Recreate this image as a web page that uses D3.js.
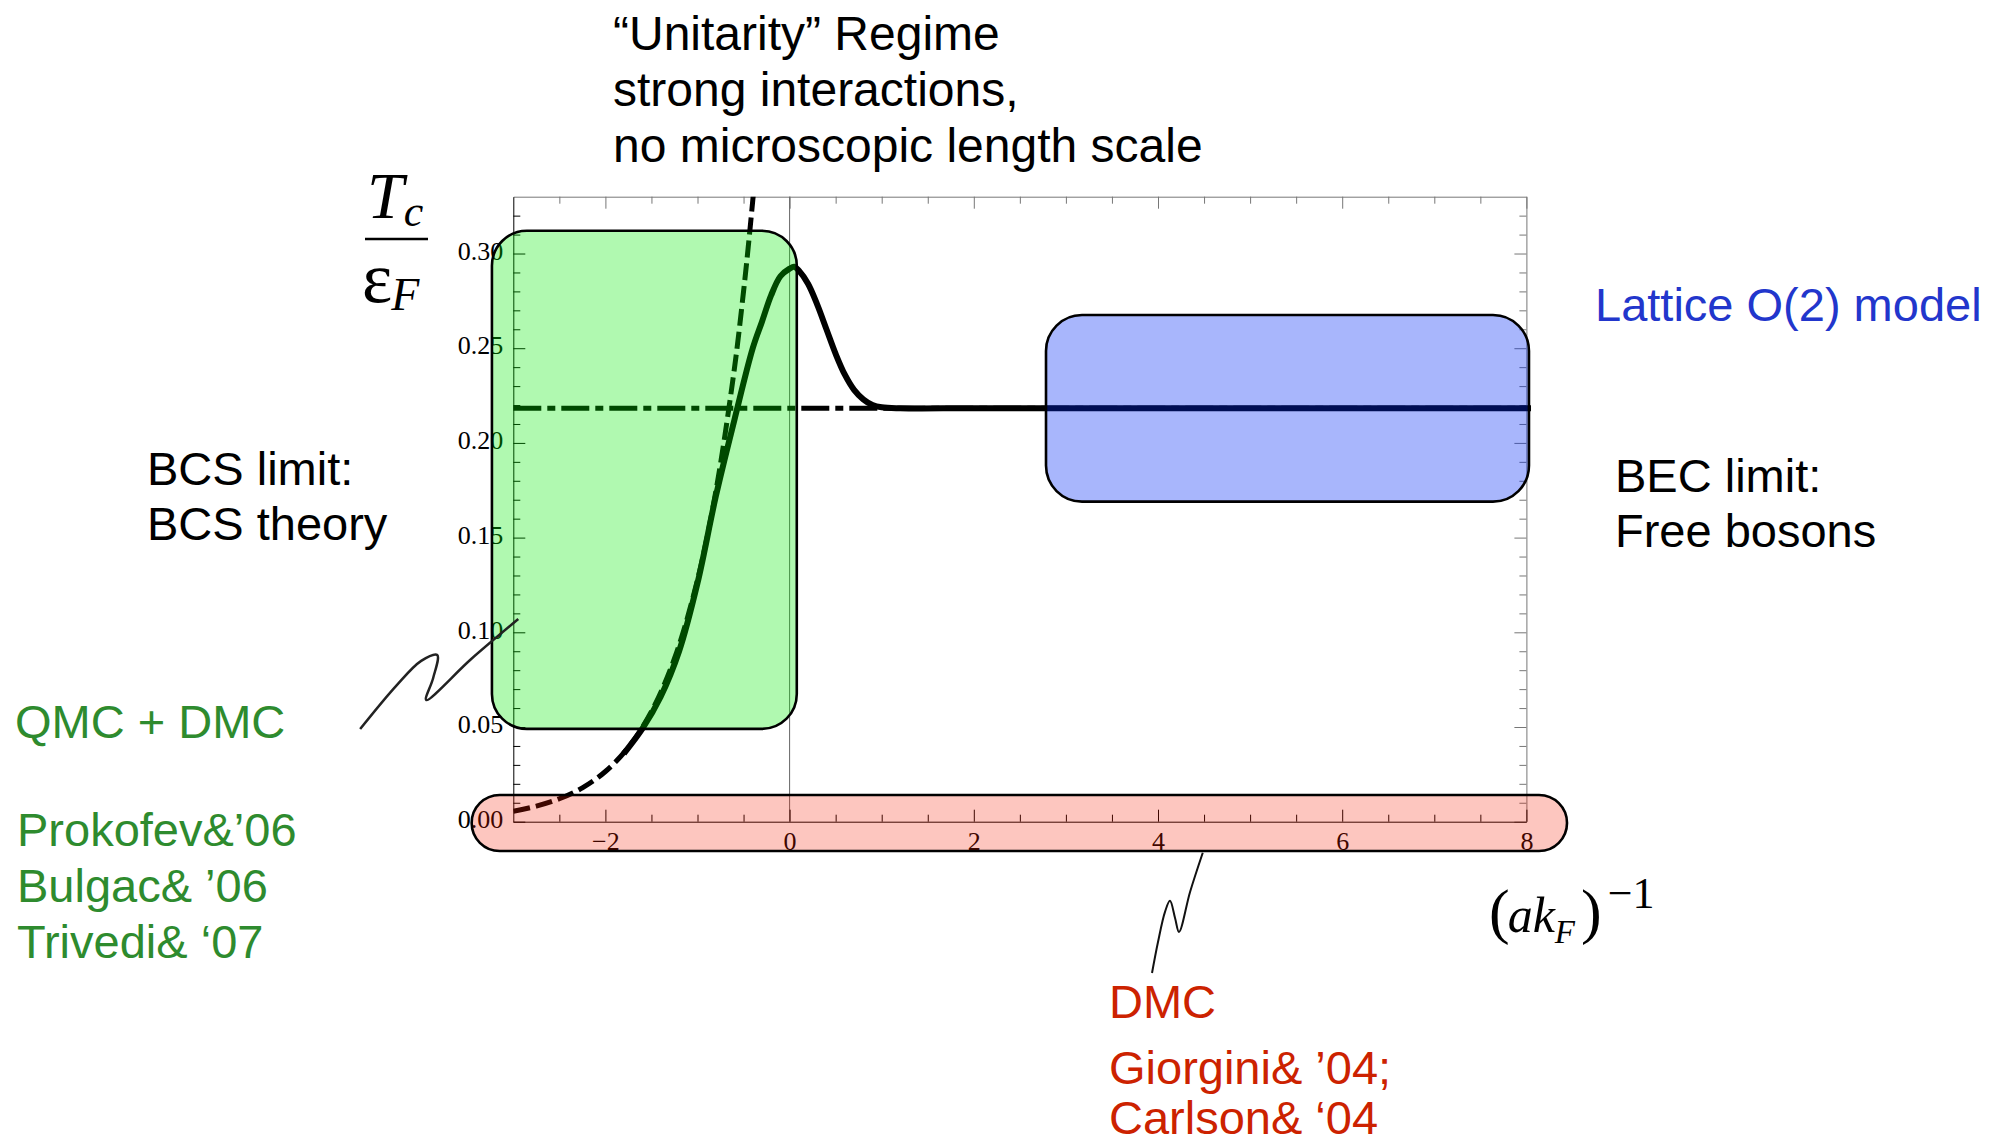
<!DOCTYPE html>
<html>
<head>
<meta charset="utf-8">
<script src="https://cdn.jsdelivr.net/npm/d3@7/dist/d3.min.js"></script>
<style>
body { margin: 0; background: #fff; }
svg { display: block; }
</style>
</head>
<body>
<svg id="chart" width="1990" height="1146"></svg>
<script>
// BCS asymptote (dashed)
var bcsX = [-3, -2.75, -2.5, -2.25, -2, -1.75, -1.5, -1.25, -1, -0.8, -0.6, -0.5, -0.45, -0.4, -0.37];
var bcsY = [0.0055, 0.0082, 0.0121, 0.0179, 0.0265, 0.0393, 0.0582, 0.0862, 0.1277, 0.1747, 0.239, 0.280, 0.303, 0.328, 0.343];

// Tc crossover curve (solid)
var tcX = [-1.8, -1.6, -1.4, -1.2, -1.0, -0.8, -0.6, -0.4, -0.3, -0.2, -0.1, 0.0, 0.05, 0.1, 0.2, 0.3, 0.4, 0.5, 0.6, 0.7, 0.8, 0.9, 1.0, 1.2, 2, 4, 6, 8.05];
var tcY = [0.036, 0.049, 0.066, 0.090, 0.126, 0.172, 0.212, 0.250, 0.264, 0.278, 0.288, 0.292, 0.293, 0.291, 0.284, 0.273, 0.260, 0.247, 0.236, 0.228, 0.223, 0.220, 0.2188, 0.2183, 0.2183, 0.2183, 0.2183, 0.2183];

// BEC limit (dash-dot)
var becX = [-3, 8];
var becY = [0.2183, 0.2183];

var xTicks = [-2, 0, 2, 4, 6, 8];
var xTickLabels = ["\u22122", "0", "2", "4", "6", "8"];
var yTicks = [0, 0.05, 0.10, 0.15, 0.20, 0.25, 0.30];
var yTickLabels = ["0.00", "0.05", "0.10", "0.15", "0.20", "0.25", "0.30"];

// method boxes: QMC+DMC, lattice O(2), DMC
var boxX0 = [-3.232, 2.784, -3.452];
var boxX1 = [0.078, 8.028, 8.441];
var boxY0 = [0.049, 0.169, -0.0155];
var boxY1 = [0.312, 0.2675, 0.0141];
var boxColor = ["rgb(0,235,0)", "rgb(0,40,245)", "rgb(248,28,0)"];
var boxAlpha = [0.31, 0.34, 0.25];
var boxRadius = [35, 36, 28];

// callout squiggles (data units)
var qmcCallX = [-4.663, -4.272, -4.0, -3.826, -3.870, -3.946, -3.457, -2.946];
var qmcCallY = [0.0489, 0.0717, 0.0849, 0.0880, 0.0759, 0.0643, 0.0859, 0.1070];
var dmcCallX = [4.486, 4.348, 4.228, 4.185, 4.130, 4.076, 4.000, 3.935];
var dmcCallY = [-0.0164, -0.0371, -0.0582, -0.0508, -0.0418, -0.0476, -0.0635, -0.0799];

var serif = "'Liberation Serif','Times New Roman',serif";
var sans = "'Liberation Sans',Arial,Helvetica,sans-serif";

var svg = d3.select("#chart");
svg.append("rect").attr("width", 1990).attr("height", 1146).attr("fill", "#fff");

var x = d3.scaleLinear().domain([-3, 8]).range([513.3, 1526.4]);
var y = d3.scaleLinear().domain([0, 0.33]).range([821.7, 196.7]);

var xMinor = d3.range(-2.5, 8, 0.5).filter(function(d){ return xTicks.indexOf(d) < 0; });
var yMinor = d3.range(0.01, 0.33, 0.01).filter(function(d){
    return yTicks.every(function(t){ return Math.abs(t - d) > 0.001; });
});

function styleAxis(g, col) {
    g.attr("color", col).attr("font-family", serif).attr("font-size", 26);
}

// frame: top and right (grey)
var gTop = svg.append("g").attr("transform", "translate(0," + y(0.33) + ")")
    .call(d3.axisTop(x).tickValues(xTicks).tickSize(-12).tickSizeOuter(0).tickFormat(""));
styleAxis(gTop, "#777");
svg.append("g").attr("transform", "translate(0," + y(0.33) + ")")
    .call(d3.axisTop(x).tickValues(xMinor).tickSize(-7).tickFormat(""))
    .attr("color", "#777").select(".domain").remove();

var gRight = svg.append("g").attr("transform", "translate(" + x(8) + ",0)")
    .call(d3.axisRight(y).tickValues(yTicks).tickSize(-12).tickSizeOuter(0).tickFormat(""));
styleAxis(gRight, "#777");
svg.append("g").attr("transform", "translate(" + x(8) + ",0)")
    .call(d3.axisRight(y).tickValues(yMinor).tickSize(-7).tickFormat(""))
    .attr("color", "#777").select(".domain").remove();

// vertical axis at x = 0
svg.append("line")
    .attr("x1", x(0)).attr("x2", x(0))
    .attr("y1", y(0)).attr("y2", y(0.33))
    .attr("stroke", "#666").attr("stroke-width", 1);

// bottom and left axes (black, labelled)
var gBottom = svg.append("g").attr("transform", "translate(0," + y(0) + ")")
    .call(d3.axisBottom(x).tickValues(xTicks).tickSize(-12).tickSizeOuter(0).tickPadding(10)
        .tickFormat(function(d, i){ return xTickLabels[i]; }));
styleAxis(gBottom, "#000");
svg.append("g").attr("transform", "translate(0," + y(0) + ")")
    .call(d3.axisBottom(x).tickValues(xMinor).tickSize(-7).tickFormat(""))
    .attr("color", "#000").select(".domain").remove();

var gLeft = svg.append("g").attr("transform", "translate(" + x(-3) + ",0)")
    .call(d3.axisLeft(y).tickValues(yTicks).tickSize(-12).tickSizeOuter(0).tickPadding(10)
        .tickFormat(function(d, i){ return yTickLabels[i]; }));
styleAxis(gLeft, "#000");
gLeft.selectAll(".tick text").attr("dy", "0.22em");
svg.append("g").attr("transform", "translate(" + x(-3) + ",0)")
    .call(d3.axisLeft(y).tickValues(yMinor).tickSize(-7).tickFormat(""))
    .attr("color", "#000").select(".domain").remove();

// curves
svg.append("clipPath").attr("id", "plotclip")
    .append("rect").attr("x", x(-3)).attr("y", y(0.33))
    .attr("width", x(8) - x(-3) + 6).attr("height", y(0) - y(0.33));

function curve(X, Y) {
    return d3.line()
        .x(function(i){ return x(X[i]); })
        .y(function(i){ return y(Y[i]); })
        .curve(d3.curveCatmullRom.alpha(0.5))(d3.range(X.length));
}

svg.append("path").attr("d", curve(becX, becY))
    .attr("fill", "none").attr("stroke", "#000").attr("stroke-width", 5)
    .attr("stroke-dasharray", "28,6,8,6");

svg.append("path").attr("d", curve(bcsX, bcsY)).attr("clip-path", "url(#plotclip)")
    .attr("fill", "none").attr("stroke", "#000").attr("stroke-width", 5)
    .attr("stroke-dasharray", "17,6");

svg.append("path").attr("d", curve(tcX, tcY))
    .attr("fill", "none").attr("stroke", "#000").attr("stroke-width", 6)
    .attr("stroke-linejoin", "round");

// translucent method boxes on top
svg.selectAll("rect.box")
    .data(d3.range(boxX0.length))
    .enter().append("rect")
    .attr("class", "box")
    .attr("x", function(i){ return x(boxX0[i]); })
    .attr("y", function(i){ return y(boxY1[i]); })
    .attr("width", function(i){ return x(boxX1[i]) - x(boxX0[i]); })
    .attr("height", function(i){ return y(boxY0[i]) - y(boxY1[i]); })
    .attr("rx", function(i){ return boxRadius[i]; })
    .attr("fill", function(i){ return boxColor[i]; })
    .attr("fill-opacity", function(i){ return boxAlpha[i]; })
    .attr("stroke", "#000").attr("stroke-width", 2.6);

// callouts
svg.append("path").attr("d", curve(qmcCallX, qmcCallY))
    .attr("fill", "none").attr("stroke", "#222").attr("stroke-width", 2.5);
svg.append("path").attr("d", curve(dmcCallX, dmcCallY))
    .attr("fill", "none").attr("stroke", "#111").attr("stroke-width", 2);

// text blocks
function lines(xp, ys, strs, size, col) {
    strs.forEach(function(s, i){
        svg.append("text").attr("x", xp).attr("y", ys[i])
            .attr("font-family", sans).attr("font-size", size)
            .attr("fill", col).text(s);
    });
}
lines(613, [50, 106, 162], ["\u201CUnitarity\u201D Regime", "strong interactions,", "no microscopic length scale"], 48, "#000");
lines(147, [485, 540], ["BCS limit:", "BCS theory"], 47, "#000");
lines(15, [738], ["QMC + DMC"], 47, "#2e8b2e");
lines(17, [846, 902, 958], ["Prokofev&\u201906", "Bulgac& \u201906", "Trivedi& \u201807"], 47, "#2e8b2e");
lines(1595, [321], ["Lattice O(2) model"], 47, "#2236cc");
lines(1615, [492, 547], ["BEC limit:", "Free bosons"], 47, "#000");
lines(1109, [1018], ["DMC"], 47, "#cc2200");
lines(1109, [1084, 1134], ["Giorgini& \u201904;", "Carlson& \u201804"], 47, "#cc2200");

// y label Tc / eF
var yl = svg.append("g").attr("font-family", serif).attr("fill", "#000");
var tT = yl.append("text").attr("x", 367).attr("y", 218).attr("font-style", "italic");
tT.append("tspan").attr("font-size", 66).text("T");
tT.append("tspan").attr("font-size", 44).attr("dy", 8).text("c");
yl.append("line").attr("x1", 365).attr("x2", 428).attr("y1", 239).attr("y2", 239)
    .attr("stroke", "#000").attr("stroke-width", 2.5);
var tE = yl.append("text").attr("x", 362).attr("y", 302);
tE.append("tspan").attr("font-size", 72).text("\u03B5");
tE.append("tspan").attr("font-size", 46).attr("font-style", "italic").attr("dy", 8).attr("dx", -1).text("F");

// x label (a kF)^-1
var tX = svg.append("text").attr("font-family", serif).attr("fill", "#000")
    .attr("x", 1489).attr("y", 932);
tX.append("tspan").attr("font-size", 62).text("(");
tX.append("tspan").attr("font-size", 50).attr("font-style", "italic").attr("dx", -2).text("ak");
tX.append("tspan").attr("font-size", 33).attr("font-style", "italic").attr("dy", 11).text("F");
tX.append("tspan").attr("font-size", 62).attr("dy", -11).attr("dx", 6).text(")");
tX.append("tspan").attr("font-size", 44).attr("dy", -24).attr("dx", 6).text("\u22121");
</script>
</body>
</html>
